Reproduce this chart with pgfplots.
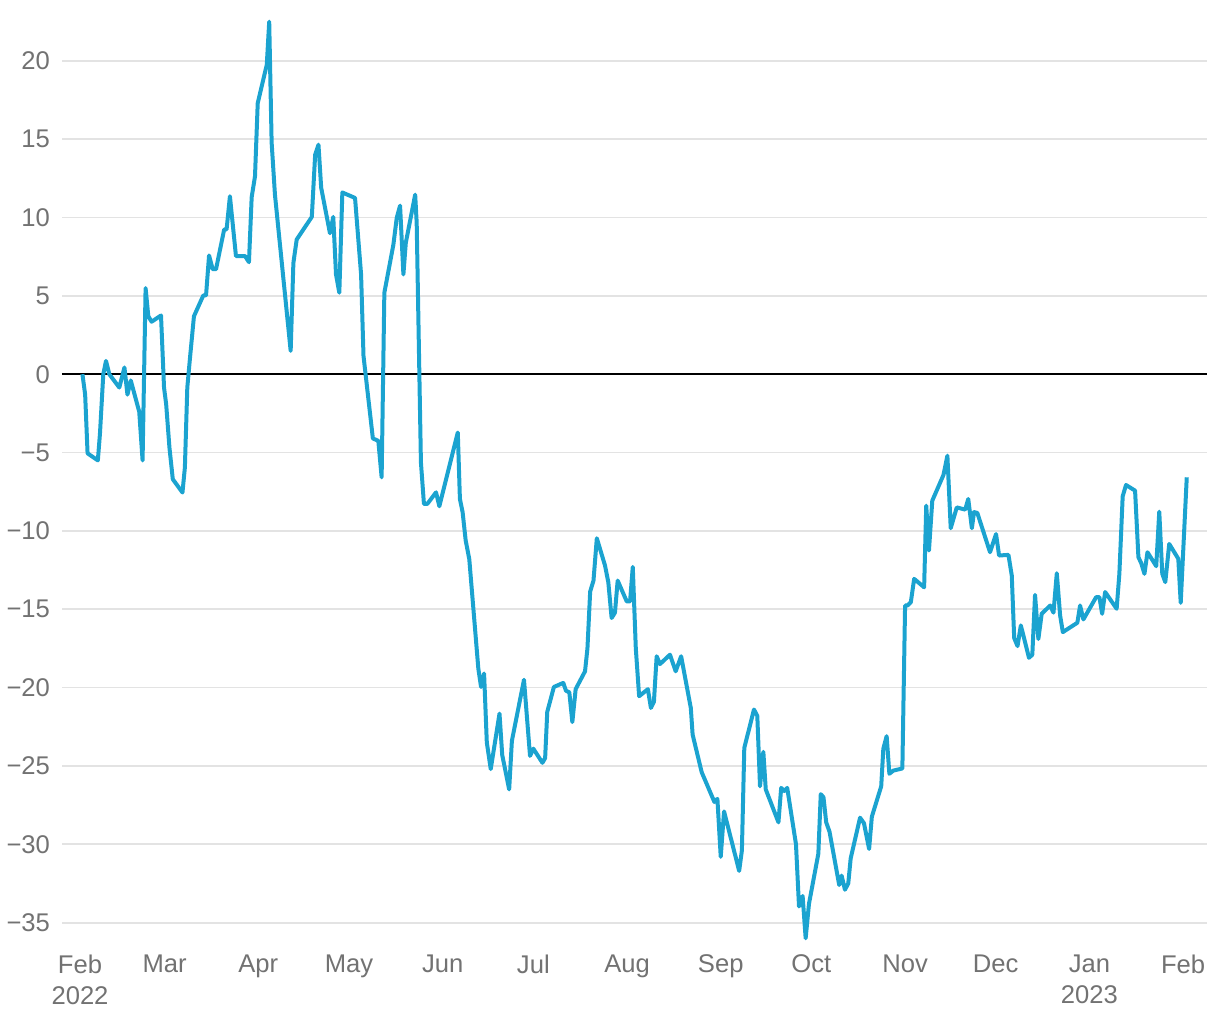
\documentclass[border=0pt]{standalone}
\usepackage{fontspec}
\setmainfont{Liberation Sans}
\usepackage{pgfplots}
\pgfplotsset{compat=1.18}
\definecolor{series}{HTML}{1BA3D0}
\definecolor{ticktext}{HTML}{727272}
\definecolor{gridgrey}{HTML}{E3E3E3}

\begin{document}
\begin{tikzpicture}
\useasboundingbox (-31pt,-38.5pt) rectangle (579pt,471.5pt);
\begin{axis}[
  scale only axis, width=572.5pt, height=463pt,
  xmin=-5.96, xmax=372.9, ymin=-36.3, ymax=22.8,
  clip=false,
  axis line style={draw=none},
  major tick length=0pt,
  ymajorgrids, grid style={gridgrey, line width=0.9pt},
  ytick={-35,-30,...,20},
  yticklabels={−35,−30,−25,−20,−15,−10,−5,0,5,10,15,20},
  xtick={0,28,59,89,120,150,181,212,242,273,303,334,365},
  xticklabels={{Feb\\2022},Mar,Apr,May,Jun,Jul,Aug,Sep,Oct,Nov,Dec,{Jan\\2023},Feb},
  ticklabel style={font=\fontsize{12.8}{15.5}\selectfont, text=ticktext},
  x tick label style={align=center, anchor=north, yshift=-2.5pt},
  y tick label style={anchor=east, xshift=-2.5pt},
  extra y ticks={0}, extra y tick labels={},
  extra y tick style={grid style={black, line width=1pt}},
]
\addplot[series, line width=2pt, line join=round, no markers] coordinates {
(0.8,0) (1.7,-1.3) (2.5,-5.05) (5.9,-5.5) (6.6,-3.8) (7.7,0) (8.6,0.85) (9.7,0) (13.0,-0.85) (14.7,0.43) (15.7,-1.3) (16.8,-0.4) (19.6,-2.4) (20.7,-5.5) (21.7,5.5) (22.6,3.7) (23.7,3.35) (26.8,3.75) (27.8,-0.85) (28.5,-1.9) (29.6,-4.7) (30.7,-6.7) (33.9,-7.55) (34.7,-5.95) (35.5,-0.85) (36.4,1.06) (37.7,3.7) (40.8,5.03) (41.7,5.03) (42.7,7.58) (43.9,6.7) (45.0,6.7) (47.7,9.24) (48.5,9.24) (49.6,11.36) (51.6,7.54) (54.6,7.54) (55.9,7.15) (56.8,11.3) (57.9,12.63) (58.8,17.3) (61.8,19.75) (62.6,22.5) (63.4,14.8) (64.5,11.46) (69.7,1.49) (70.6,7.1) (71.7,8.6) (76.7,10.04) (77.8,14.0) (78.9,14.65) (79.8,11.9) (82.7,9.0) (83.8,10.04) (84.7,6.37) (85.8,5.2) (86.8,11.6) (91.0,11.25) (93.0,6.37) (93.8,1.17) (96.9,-4.1) (98.7,-4.25) (99.8,-6.58) (100.7,5.2) (103.7,8.28) (104.8,9.98) (105.9,10.76) (107.0,6.37) (107.8,8.39) (110.9,11.46) (111.4,9.66) (112.8,-5.63) (113.8,-8.28) (114.9,-8.28) (117.8,-7.54) (118.9,-8.43) (125.0,-3.72) (125.7,-7.96) (126.6,-8.81) (127.6,-10.6) (128.8,-11.8) (131.8,-18.8) (132.7,-19.96) (133.7,-19.1) (134.6,-23.5) (135.9,-25.2) (138.8,-21.66) (139.7,-24.3) (142.0,-26.5) (142.9,-23.4) (146.9,-19.5) (148.9,-24.36) (150.0,-23.9) (153.0,-24.8) (153.9,-24.5) (154.6,-21.55) (156.8,-19.96) (159.9,-19.7) (160.8,-20.2) (161.9,-20.3) (162.9,-22.2) (164.0,-20.1) (167.1,-18.96) (167.9,-17.5) (168.8,-13.87) (169.9,-13.17) (171.0,-10.47) (173.7,-12.2) (174.8,-13.27) (175.9,-15.56) (177.0,-15.22) (177.9,-13.17) (180.9,-14.5) (182.0,-14.5) (182.9,-12.3) (183.9,-17.5) (185.0,-20.55) (187.9,-20.1) (188.9,-21.3) (189.9,-20.9) (190.8,-18.0) (191.9,-18.5) (195.2,-17.9) (197.1,-18.96) (198.9,-18.0) (202.1,-21.3) (202.7,-23.0) (205.7,-25.4) (209.9,-27.3) (210.9,-27.1) (212.0,-30.8) (213.1,-27.9) (218.1,-31.7) (219.0,-30.4) (219.8,-23.85) (223.0,-21.4) (224.1,-21.8) (225.0,-26.3) (226.1,-24.1) (226.9,-26.5) (231.1,-28.6) (232.0,-26.4) (233.0,-26.6) (234.0,-26.4) (236.9,-30.0) (237.9,-33.97) (239.1,-33.3) (240.1,-36.0) (241.2,-33.8) (244.3,-30.6) (245.1,-26.8) (246.0,-27.0) (246.9,-28.6) (248.0,-29.2) (251.2,-32.6) (252.0,-32.0) (253.1,-32.9) (254.2,-32.5) (255.0,-30.9) (258.1,-28.3) (259.4,-28.66) (261.1,-30.3) (262.0,-28.24) (265.1,-26.3) (265.8,-23.9) (266.9,-23.1) (267.8,-25.5) (269.1,-25.3) (272.1,-25.16) (273.0,-14.76) (273.8,-14.76) (274.9,-14.55) (276.0,-13.06) (279.3,-13.6) (280.0,-8.39) (280.9,-11.25) (282.0,-8.07) (285.7,-6.43) (287.0,-5.2) (288.1,-9.83) (290.1,-8.5) (292.9,-8.64) (293.9,-7.96) (295.1,-9.83) (295.8,-8.8) (296.9,-8.85) (301.1,-11.36) (303.1,-10.2) (304.1,-11.57) (307.2,-11.53) (308.3,-12.85) (309.1,-16.84) (310.2,-17.35) (311.3,-16.03) (314.0,-18.1) (315.1,-17.9) (316.0,-14.08) (317.1,-16.9) (318.2,-15.29) (321.0,-14.76) (322.1,-15.22) (323.2,-12.7) (324.3,-15.4) (325.2,-16.46) (330.0,-15.86) (330.9,-14.76) (332.0,-15.65) (336.2,-14.23) (337.3,-14.23) (338.2,-15.29) (339.2,-13.9) (343.0,-14.97) (343.9,-12.74) (345.0,-7.79) (346.1,-7.07) (349.1,-7.43) (350.2,-11.68) (351.1,-12.04) (352.2,-12.74) (353.2,-11.36) (356.1,-12.25) (357.1,-8.77) (358.1,-12.74) (359.1,-13.27) (360.4,-10.83) (363.4,-11.78) (364.2,-14.59) (366.2,-6.58)
};
\end{axis}
\end{tikzpicture}
\end{document}
